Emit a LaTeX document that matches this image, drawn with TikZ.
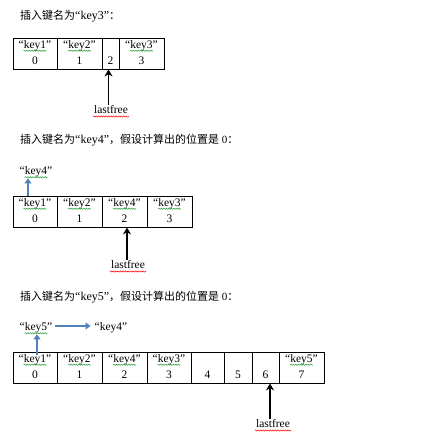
\documentclass[tikz,border=0pt]{standalone}
\usepackage{fontspec}
\setmainfont{Liberation Serif}
\newfontfamily\cjk{Noto Sans CJK SC}
\usetikzlibrary{arrows.meta,decorations.pathmorphing}
\definecolor{ArrowBlue}{RGB}{79, 129, 189}
\definecolor{SpellGreen}{RGB}{40, 160, 60}

\begin{document}
\begin{tikzpicture}[
    x=1pt, y=-1pt,
    cell/.style={
        draw,
        line width=0.9pt,
        minimum height=31pt,
        inner sep=0pt
    },
    keytext/.style={
        inner sep=0pt,
        font=\fontsize{11.5}{13}\selectfont
    },
    numtext/.style={
        inner sep=0pt,
        font=\fontsize{11.5}{13}\selectfont
    },
    heading/.style={
        anchor=west,
        inner sep=0pt,
        font=\fontsize{11}{13}\selectfont
    },
    freelabel/.style={
        inner sep=1pt,
        font=\fontsize{11.5}{13}\selectfont
    },
    spellg/.style={
        draw=SpellGreen,
        line width=0.5pt,
        decorate,
        decoration={snake, amplitude=0.6pt, segment length=2.5pt}
    },
    spellr/.style={
        spellg,
        draw=red
    },
    freearrow/.style={
        line width=1.7pt,
        -{Stealth[length=7pt, width=8pt]}
    },
    movearrow/.style={
        draw=ArrowBlue,
        line width=1.6pt,
        -{Triangle[length=5pt, width=7pt]}
    }
]
\useasboundingbox (0,0) rectangle (437,441);

% First insertion
\node[heading] (t1) at (20,16) {{\cjk 插入键名为}{\fontsize{12}{13}\selectfont“key3”}{\cjk ：}};

\foreach \l/\r/\k/\n/\id in {13/57/key1/0/a1, 57/102/key2/1/a2, 119/164/key3/3/a4}{
    \node[cell, minimum width={(\r-\l)*1pt}] (\id) at ({(\l+\r)/2},53.5) {};
    \node[keytext] (\id-k) at ({(\l+\r)/2},45.5) {“\k”};
    \node[numtext] (\id-n) at ({(\l+\r)/2},61) {\n};
    \draw[spellg] ([xshift=5pt,yshift=-2.5pt]\id-k.base west)
        -- ([xshift=-5pt,yshift=-2.5pt]\id-k.base east);
}
\node[cell, minimum width=17pt] (a3) at (110.5,53.5) {};
\node[numtext] (a3-n) at (110.5,61) {2};

\node[freelabel] (lf1) at (111,110) {lastfree};
\draw[spellr] ([yshift=-2.5pt]lf1.base west) -- ([yshift=-2.5pt]lf1.base east);
\draw[freearrow] ([xshift=-2.5pt]lf1.north) -- ([xshift=-2.5pt]lf1.north |- a3.south);

% Second insertion
\node[heading] (t2) at (20,140) {{\cjk 插入键名为}{\fontsize{12}{13}\selectfont“key4”}{\cjk ，假设计算出的位置是} 0{\cjk ：}};

\foreach \l/\r/\k/\n/\id in {13/57/key1/0/b1, 57/102/key2/1/b2, 102/147/key4/2/b3, 147/192/key3/3/b4}{
    \node[cell, minimum width={(\r-\l)*1pt}] (\id) at ({(\l+\r)/2},211.5) {};
    \node[keytext] (\id-k) at ({(\l+\r)/2},203.5) {“\k”};
    \node[numtext] (\id-n) at ({(\l+\r)/2},219) {\n};
    \draw[spellg] ([xshift=5pt,yshift=-2.5pt]\id-k.base west)
        -- ([xshift=-5pt,yshift=-2.5pt]\id-k.base east);
}

\node[keytext] (up4) at (36,172) {“key4”};
\draw[spellg] ([xshift=5pt,yshift=-2.5pt]up4.base west) -- ([xshift=-5pt,yshift=-2.5pt]up4.base east);
\draw[movearrow] ([xshift=-7pt]b1.north) -- ([xshift=-7pt,yshift=-1pt]b1.north |- up4.south);

\node[freelabel] (lf2) at (128,265) {lastfree};
\draw[spellr] ([yshift=-2.5pt]lf2.base west) -- ([yshift=-2.5pt]lf2.base east);
\draw[freearrow] ([xshift=-1pt]lf2.north) -- ([xshift=-1pt]lf2.north |- b3.south);

% Third insertion
\node[heading] (t3) at (20,297) {{\cjk 插入键名为}{\fontsize{12}{13}\selectfont“key5”}{\cjk ，假设计算出的位置是} 0{\cjk ：}};

\foreach \l/\r/\k/\n/\id in {13/57/key1/0/c1, 57/102/key2/1/c2, 102/147/key4/2/c3, 147/191/key3/3/c4, 279/324/key5/7/c8}{
    \node[cell, minimum width={(\r-\l)*1pt}] (\id) at ({(\l+\r)/2},367.5) {};
    \node[keytext] (\id-k) at ({(\l+\r)/2},359.5) {“\k”};
    \node[numtext] (\id-n) at ({(\l+\r)/2},375) {\n};
    \draw[spellg] ([xshift=5pt,yshift=-2.5pt]\id-k.base west)
        -- ([xshift=-5pt,yshift=-2.5pt]\id-k.base east);
}
\foreach \l/\r/\n/\id in {191/224/4/c5, 224/252/5/c6, 252/279/6/c7}{
    \node[cell, minimum width={(\r-\l)*1pt}] (\id) at ({(\l+\r)/2},367.5) {};
    \node[numtext] (\id-n) at ({(\l+\r)/2},375) {\n};
}

\node[keytext] (up5) at (36,328) {“key5”};
\draw[spellg] ([xshift=5pt,yshift=-2.5pt]up5.base west) -- ([xshift=-5pt,yshift=-2.5pt]up5.base east);
\node[keytext] (nx4) at (111,328) {“key4”};
\draw[movearrow] ([xshift=2pt,yshift=-3pt]c1.north) -- ([xshift=2pt,yshift=-1pt]c1.north |- up5.south);
\draw[movearrow] ([xshift=3pt,yshift=2pt]up5.east) -- ([xshift=-4pt,yshift=2pt]nx4.west);

\node[freelabel] (lf3) at (273,424) {lastfree};
\draw[spellr] ([yshift=-2.5pt]lf3.base west) -- ([yshift=-2.5pt]lf3.base east);
\draw[freearrow] ([xshift=-3pt]lf3.north) -- ([xshift=-3pt]lf3.north |- c7.south);

\end{tikzpicture}
\end{document}
